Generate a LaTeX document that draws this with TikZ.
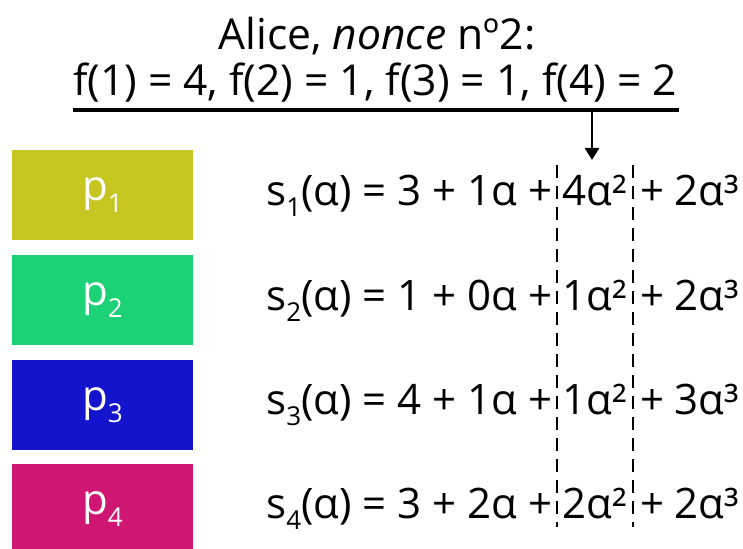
\documentclass[tikz,border=0pt]{standalone}
\usepackage{fontspec}
\setmainfont{Open Sans}
\usetikzlibrary{arrows.meta}
\definecolor{cone}{RGB}{198,198,33}
\definecolor{ctwo}{RGB}{27,210,118}
\definecolor{cthree}{RGB}{20,20,204}
\definecolor{cfour}{RGB}{207,22,114}
\newcommand\lowsub[1]{\raisebox{-0.28em}{\fontsize{26}{30}\selectfont #1}}
\tikzset{
  txt/.style={font=\fontsize{42}{50}\selectfont, inner sep=0pt, outer sep=0pt},
  head/.style={font=\fontsize{42.6}{50}\selectfont, inner sep=0pt, outer sep=0pt},
  pbox/.style={minimum width=181pt, minimum height=90pt, inner sep=0pt, outer sep=0pt,
    text=white, font=\fontsize{42}{50}\selectfont, anchor=north west},
  sep/.style={line width=2.1pt, dash pattern=on 13pt off 8pt},
}
\begin{document}
\begin{tikzpicture}[x=1pt,y=-1pt]
\useasboundingbox (0,0) rectangle (743,548);
\clip (0,0) rectangle (743,548);
% header
\node[head, anchor=base] (t1) at (377,50) {Alice, \textit{nonce} nº2:};
\node[head, anchor=base] (t2) at (375,96) {f(1) = 4, f(2) = 1, f(3) = 1, f(4) = 2};
\coordinate (ul) at (73,110);
\coordinate (ur) at (679,110);
\draw[line width=3.4pt] (ul) -- (ur);
\coordinate (as) at (592,110);
\coordinate (ae) at (592,160);
\draw[line width=2.8pt, -{Triangle[width=14pt,length=12pt]}] (as) -- (ae);
% boxes
\node[pbox, fill=cone] (p1) at (12,150) {p\lowsub{1}};
\node[pbox, fill=ctwo] (p2) at (12,255) {p\lowsub{2}};
\node[pbox, fill=cthree] (p3) at (12,360) {p\lowsub{3}};
\node[pbox, fill=cfour] (p4) at (12,464) {p\lowsub{4}};
% formulas
\node[txt, anchor=base east] (a1) at (552,205) {s\lowsub{1}(α) = 3 + 1α +};
\node[txt, anchor=base] (b1) at (595,205) {4α²};
\node[txt, anchor=base west] (c1) at (640,205) {+ 2α³};
\node[txt, anchor=base east] (a2) at (552,310) {s\lowsub{2}(α) = 1 + 0α +};
\node[txt, anchor=base] (b2) at (595,310) {1α²};
\node[txt, anchor=base west] (c2) at (640,310) {+ 2α³};
\node[txt, anchor=base east] (a3) at (552,414) {s\lowsub{3}(α) = 4 + 1α +};
\node[txt, anchor=base] (b3) at (595,414) {1α²};
\node[txt, anchor=base west] (c3) at (640,414) {+ 3α³};
\node[txt, anchor=base east] (a4) at (552,518) {s\lowsub{4}(α) = 3 + 2α +};
\node[txt, anchor=base] (b4) at (595,518) {2α²};
\node[txt, anchor=base west] (c4) at (640,518) {+ 2α³};
% dashed column
\coordinate (d1t) at (557,165);
\coordinate (d1b) at (557,527);
\coordinate (d2t) at (633,165);
\coordinate (d2b) at (633,527);
\draw[sep] (d1t) -- (d1b);
\draw[sep] (d2t) -- (d2b);
\end{tikzpicture}
\end{document}
